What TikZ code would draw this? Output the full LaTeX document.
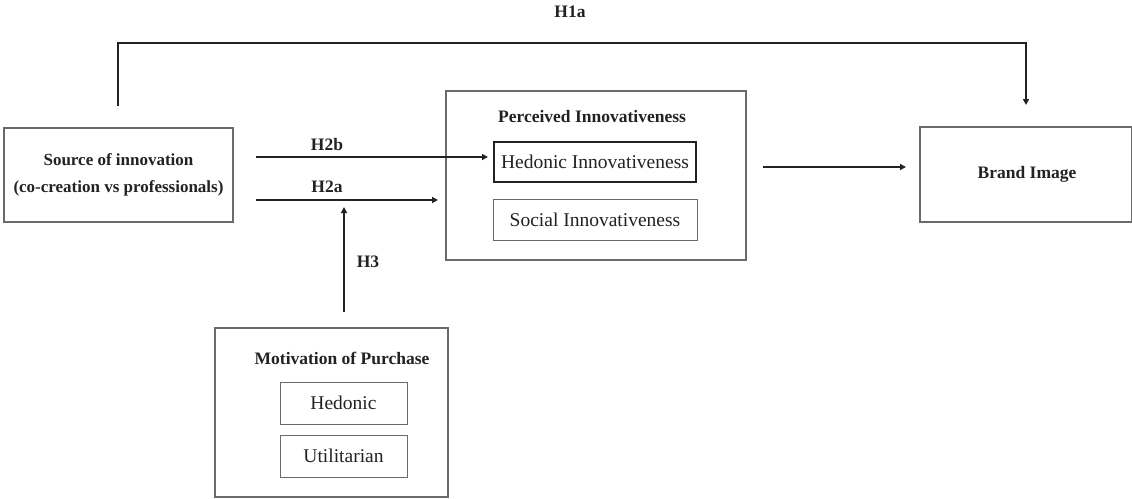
\documentclass[tikz,border=0pt]{standalone}
\usepackage{fontspec}
\setmainfont{Liberation Serif}
\usetikzlibrary{arrows.meta}
\definecolor{boxgray}{HTML}{6A6A6A}
\definecolor{linedark}{HTML}{222222}
\tikzset{
  box/.style={draw=boxgray, line width=1.1pt, rectangle, inner sep=0pt, align=center},
  subbox/.style={draw=boxgray, line width=1pt, rectangle, inner sep=0pt, align=center, font=\fontsize{19.5}{23}\selectfont, text=linedark},
  lbl/.style={font=\bfseries\fontsize{17.5}{21}\selectfont, inner sep=0pt, text=linedark},
  conn/.style={draw=linedark, line width=1.5pt, -{Triangle[length=6pt,width=6pt]}},
}
\begin{document}
\begin{tikzpicture}[x=1pt,y=-1pt]
\useasboundingbox (0,0) rectangle (1132,498);
% boxes
\node[box, minimum width=229pt, minimum height=94pt, text=linedark, font=\bfseries\fontsize{17}{27}\selectfont] (src) at (118.5,175) {Source of innovation\\(co-creation vs professionals)};
\node[box, minimum width=300pt, minimum height=169pt] (pi) at (596,175.5) {};
\node[lbl] (pit) at (592,117) {Perceived Innovativeness};
\node[subbox, draw=linedark, line width=1.8pt, minimum width=202pt, minimum height=40pt] (hi) at (595,162) {Hedonic Innovativeness};
\node[subbox, minimum width=204pt, minimum height=41pt] (si) at (595,219.5) {Social Innovativeness};
\node[box, minimum width=212pt, minimum height=95pt] (bi) at (1026,174.5) {};
\node[lbl] (bit) at (1027,174) {Brand Image};
\node[box, minimum width=233pt, minimum height=169pt] (mp) at (331.5,412.5) {};
\node[lbl] (mpt) at (342,358) {Motivation of Purchase};
\node[subbox, minimum width=127pt, minimum height=42pt] (hd) at (343.5,403) {Hedonic};
\node[subbox, minimum width=127pt, minimum height=42pt] (ut) at (343.5,456) {Utilitarian};
% coordinates for connectors
\coordinate (h1s) at (118,106);
\coordinate (h1e) at (1026,105);
\coordinate (h2bs) at (256,157);
\coordinate (h2be) at (488,157);
\coordinate (h2as) at (256,200);
\coordinate (h2ae) at (438,200);
\coordinate (h3s) at (344,312);
\coordinate (h3e) at (344,207);
\coordinate (pis) at (763,167);
\coordinate (pie) at (906,167);
% connectors
\draw[conn] (h1s) -- (118,43) -- (1026,43) -- (h1e);
\draw[conn] (h2bs) -- (h2be);
\draw[conn] (h2as) -- (h2ae);
\draw[conn] (h3s) -- (h3e);
\draw[conn] (pis) -- (pie);
% labels
\node[lbl] (l1a) at (570,12) {H1a};
\node[lbl] (l2b) at (327,145) {H2b};
\node[lbl] (l2a) at (327,187) {H2a};
\node[lbl] (l3) at (368,262) {H3};
\end{tikzpicture}
\end{document}
